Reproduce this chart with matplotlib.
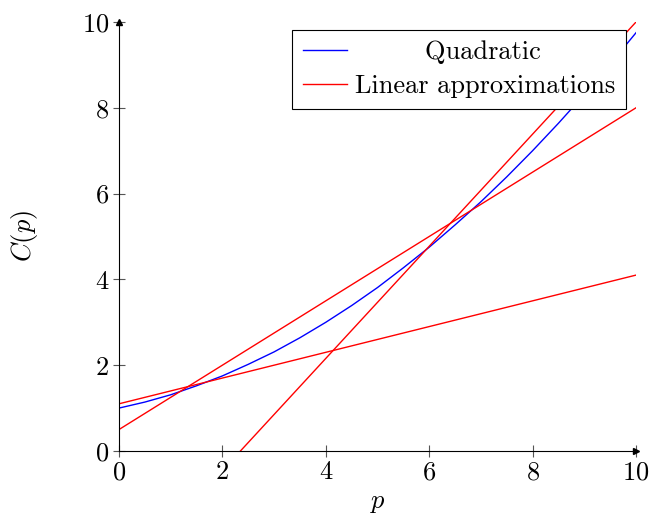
import numpy as np
import matplotlib
matplotlib.use("Agg")
import matplotlib.pyplot as plt

# Computer Modern look (cmr10 ships with matplotlib)
plt.rcParams["font.family"] = "cmr10"
plt.rcParams["mathtext.fontset"] = "cm"
plt.rcParams["axes.unicode_minus"] = False
plt.rcParams["axes.formatter.use_mathtext"] = True

# Data
# quadratic cost curve, sampled every 0.5
p_quad = [0.0, 0.5, 1.0, 1.5, 2.0, 2.5, 3.0, 3.5, 4.0, 4.5, 5.0,
          5.5, 6.0, 6.5, 7.0, 7.5, 8.0, 8.5, 9.0, 9.5, 10.0]
c_quad = [1.00, 1.14, 1.31, 1.52, 1.75, 2.02, 2.31, 2.64, 3.00, 3.39, 3.81,
          4.27, 4.75, 5.27, 5.81, 6.39, 7.00, 7.64, 8.31, 9.02, 9.75]

# linear approximations: values at p = 0 and p = 10
p_lin = [0.0, 10.0]
lin_1 = [1.10, 4.10]
lin_2 = [0.50, 8.00]
lin_3 = [-3.07, 10.00]

ticks = [0, 2, 4, 6, 8, 10]
fs = 19

fig = plt.figure(figsize=(6.52, 5.15), dpi=100)
ax = fig.add_axes([0.1825, 0.1243, 0.7930, 0.8330])

ax.plot(p_quad, c_quad, color="blue", lw=1.0, label="        Quadratic")
ax.plot(p_lin, lin_1, color="red", lw=1.0, label="Linear approximations")
ax.plot(p_lin, lin_2, color="red", lw=1.0)
ax.plot(p_lin, lin_3, color="red", lw=1.0)

ax.set_xlim(0, 10)
ax.set_ylim(0, 10)
ax.set_xticks(ticks)
ax.set_yticks(ticks)
ax.tick_params(direction="inout", length=8, width=0.8, color="#555555",
               labelsize=fs, pad=3)

# axis lines with arrows
ax.spines["top"].set_visible(False)
ax.spines["right"].set_visible(False)
ax.plot(1, 0, ">k", ms=5, transform=ax.get_yaxis_transform(), clip_on=False)
ax.plot(0, 1, "^k", ms=5, transform=ax.get_xaxis_transform(), clip_on=False)

ax.set_xlabel("$p$", fontsize=fs, labelpad=5)
ax.set_ylabel("$C(p)$", fontsize=fs, labelpad=30)

leg = ax.legend(loc="upper right", bbox_to_anchor=(0.981, 0.981), fontsize=fs,
                frameon=True, fancybox=False, edgecolor="black", framealpha=1,
                handlelength=1.7, handletextpad=0.3, borderpad=0.4,
                labelspacing=0.38, borderaxespad=0)
leg.get_frame().set_linewidth(0.8)

fig.savefig("out.png", dpi=100)
